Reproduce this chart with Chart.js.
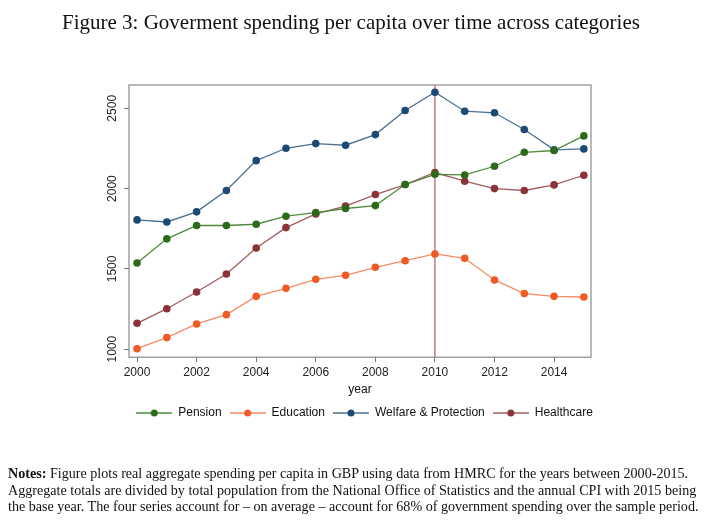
<!DOCTYPE html>
<html>
<head>
<meta charset="utf-8">
<script src="https://cdn.jsdelivr.net/npm/chart.js@4.4.1/dist/chart.umd.min.js"></script>
<style>
  body { margin: 0; background: #fff; }
  #wrap { position: relative; width: 720px; height: 524px; }
  #chart { position: absolute; left: 0; top: 0; }
  #title {
    position: absolute; top: 10px; left: -9px; width: 720px; text-align: center;
    font-family: "Liberation Serif", serif; font-size: 21px; color: #111;
  }
  #notes {
    position: absolute; left: 8px; top: 465px;
    font-family: "Liberation Serif", serif; font-size: 14.1px; line-height: 16.5px;
    color: #111; white-space: nowrap;
  }
</style>
</head>
<body>
<div id="wrap">
  <canvas id="chart" width="720" height="524"></canvas>
  <div id="title">Figure 3: Goverment spending per capita over time across categories</div>
  <div id="notes">
    <div><b>Notes:</b> Figure plots real aggregate spending per capita in GBP using data from HMRC for the years between 2000-2015.</div>
    <div>Aggregate totals are divided by total population from the National Office of Statistics and the annual CPI with 2015 being</div>
    <div>the base year. The four series account for – on average – account for 68% of government spending over the sample period.</div>
  </div>
</div>
<script>
// ==== DATA ====
const years = [2000, 2001, 2002, 2003, 2004, 2005, 2006, 2007, 2008, 2009, 2010, 2011, 2012, 2013, 2014, 2015];
const pension = [1537, 1687, 1770, 1770, 1778, 1828, 1850, 1876, 1894, 2025, 2089, 2085, 2139, 2226, 2237, 2328];
const education = [1003, 1072, 1157, 1215, 1329, 1379, 1435, 1460, 1510, 1551, 1593, 1566, 1431, 1346, 1329, 1325];
const welfare = [1805, 1792, 1855, 1988, 2174, 2251, 2280, 2270, 2336, 2486, 2600, 2482, 2472, 2368, 2241, 2247];
const healthcare = [1161, 1252, 1356, 1468, 1630, 1757, 1842, 1891, 1963, 2025, 2100, 2046, 2000, 1988, 2023, 2083];
const xTicks = [2000, 2002, 2004, 2006, 2008, 2010, 2012, 2014];
const yTicks = [1000, 1500, 2000, 2500];
const markerYear = 2010;

const SANS = '"Liberation Sans", Arial, sans-serif';

// gộp năm + giá trị thành điểm {x, y}
function toPoints(values) {
  return values.map((v, i) => ({ x: years[i], y: v }));
}

// biểu tượng legend: đoạn thẳng + chấm tròn ở giữa
function legendIcon(lineColor, dotColor) {
  const c = document.createElement("canvas");
  c.width = 36;
  c.height = 10;
  const ctx = c.getContext("2d");
  ctx.strokeStyle = lineColor;
  ctx.lineWidth = 1.3;
  ctx.beginPath();
  ctx.moveTo(0, 5);
  ctx.lineTo(36, 5);
  ctx.stroke();
  ctx.fillStyle = dotColor;
  ctx.beginPath();
  ctx.arc(18, 5, 3.5, 0, Math.PI * 2);
  ctx.fill();
  return c;
}

function series(label, values, lineColor, dotColor) {
  return {
    label: label,
    data: toPoints(values),
    borderColor: lineColor,
    backgroundColor: dotColor,
    pointBackgroundColor: dotColor,
    pointBorderColor: dotColor,
    pointRadius: 3.8,
    pointBorderWidth: 0,
    borderWidth: 1.3,
    tension: 0,
    icon: legendIcon(lineColor, dotColor),
  };
}

// khung, đường dọc 2010 và nhãn trục y xoay dọc
const framePlugin = {
  id: "frame",
  beforeDatasetsDraw(chart) {
    const { ctx, chartArea: a, scales } = chart;
    const x = scales.x.getPixelForValue(markerYear);
    ctx.save();
    ctx.strokeStyle = "#c9616a";
    ctx.lineWidth = 1.3;
    ctx.beginPath();
    ctx.moveTo(x, a.top);
    ctx.lineTo(x, a.bottom);
    ctx.stroke();
    ctx.restore();
  },
  afterDraw(chart) {
    const { ctx, chartArea: a, scales } = chart;
    ctx.save();
    ctx.strokeStyle = "#8a8a8a";
    ctx.lineWidth = 1.2;
    ctx.strokeRect(a.left, a.top, a.right - a.left, a.bottom - a.top);
    ctx.fillStyle = "#222";
    ctx.font = "12px " + SANS;
    ctx.textAlign = "center";
    ctx.textBaseline = "middle";
    scales.y.ticks.forEach((t) => {
      const py = scales.y.getPixelForValue(t.value);
      ctx.save();
      ctx.translate(a.left - 16, py);
      ctx.rotate(-Math.PI / 2);
      ctx.fillText(String(t.value), 0, 0);
      ctx.restore();
    });
    ctx.restore();
  },
};

new Chart(document.getElementById("chart"), {
  type: "line",
  data: {
    datasets: [
      series("Pension", pension, "#4f8a3f", "#2c6a1a"),
      series("Education", education, "#f58c62", "#f05a24"),
      series("Welfare & Protection", welfare, "#4d6f92", "#1c4a74"),
      series("Healthcare", healthcare, "#a35c60", "#8a3338"),
    ],
  },
  options: {
    responsive: false,
    animation: false,
    layout: { padding: { left: 100, right: 91, top: 85, bottom: 95 } },
    scales: {
      x: {
        type: "linear",
        min: 1999.73,
        max: 2015.24,
        afterBuildTicks: (s) => { s.ticks = xTicks.map((v) => ({ value: v })); },
        ticks: {
          color: "#222",
          font: { family: SANS, size: 12 },
          padding: 3,
          maxRotation: 0,
          callback: (v) => String(v),
        },
        grid: { drawOnChartArea: false, drawTicks: true, tickLength: 5, color: "#777" },
        border: { display: false },
        title: { display: true, text: "year", color: "#111", font: { family: SANS, size: 12 }, padding: { top: 0, bottom: 2 } },
      },
      y: {
        min: 950,
        max: 2645,
        afterBuildTicks: (s) => { s.ticks = yTicks.map((v) => ({ value: v })); },
        afterFit: (s) => { s.width = 29; },
        ticks: { display: false },
        grid: { drawOnChartArea: false, drawTicks: true, tickLength: 5, color: "#777" },
        border: { display: false },
      },
      y2: {
        position: "right",
        display: true,
        afterFit: (s) => { s.width = 38; },
        ticks: { display: false },
        grid: { display: false },
        border: { display: false },
      },
    },
    plugins: {
      tooltip: { enabled: false },
      legend: {
        position: "bottom",
        labels: {
          usePointStyle: true,
          pointStyleWidth: 36,
          padding: 8,
          color: "#111",
          font: { family: SANS, size: 12 },
          generateLabels: (chart) =>
            Chart.defaults.plugins.legend.labels.generateLabels(chart).map((item) => {
              item.pointStyle = chart.data.datasets[item.datasetIndex].icon;
              return item;
            }),
        },
      },
    },
  },
  plugins: [framePlugin],
});
</script>
</body>
</html>
